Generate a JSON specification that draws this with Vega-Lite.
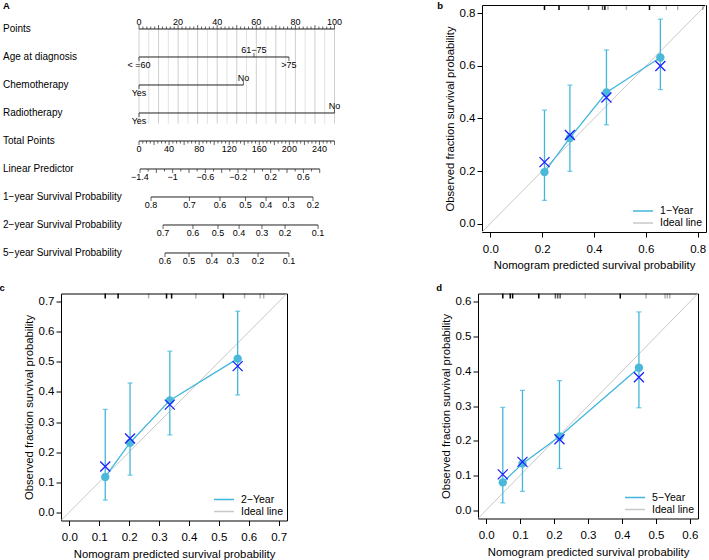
{
"$schema": "https://vega.github.io/schema/vega-lite/v6.json",
"background": "white",
"padding": {"left": -1, "top": 0, "right": 0, "bottom": 0},
"config": {
  "font": "Liberation Sans",
  "view": {"stroke": "black", "strokeWidth": 1},
  "axis": {"grid": false, "domain": false, "tickColor": "black", "tickSize": 5, "labelColor": "black", "labelFontSize": 11.5, "titleFontSize": 11.3, "titleFontWeight": "normal", "titleColor": "black", "labelFlush": false, "labelOverlap": false},
  "axisX": {"labelPadding": 6, "titlePadding": 5},
  "axisY": {"labelPadding": 2, "titlePadding": 4},
  "legend": {"padding": 0}
},
"datasets": {
  "nr": [
    {"row": 1, "name": "Points", "from": 0, "to": 100},
    {"row": 2, "name": "Age at diagnosis", "from": 0, "to": 76.7},
    {"row": 3, "name": "Chemotherapy", "from": 0, "to": 53.4},
    {"row": 4, "name": "Radiotherapy", "from": 0, "to": 100},
    {"row": 5, "name": "Total Points", "from": 0, "to": 100},
    {"row": 6, "name": "Linear Predictor", "from": 0.5, "to": 92.44},
    {"row": 7, "name": "1−year Survival Probability", "from": 6.14, "to": 89.0},
    {"row": 8, "name": "2−year Survival Probability", "from": 12.3, "to": 91.6},
    {"row": 9, "name": "5−year Survival Probability", "from": 13.3, "to": 76.7}
  ],
  "ng": [
    {"pos": 0, "kind": "M"}, {"pos": 5, "kind": "m"}, {"pos": 10, "kind": "M"}, {"pos": 15, "kind": "m"}, {"pos": 20, "kind": "M"}, {"pos": 25, "kind": "m"}, {"pos": 30, "kind": "M"}, {"pos": 35, "kind": "m"}, {"pos": 40, "kind": "M"}, {"pos": 45, "kind": "m"}, {"pos": 50, "kind": "M"}, {"pos": 55, "kind": "m"}, {"pos": 60, "kind": "M"}, {"pos": 65, "kind": "m"}, {"pos": 70, "kind": "M"}, {"pos": 75, "kind": "m"}, {"pos": 80, "kind": "M"}, {"pos": 85, "kind": "m"}, {"pos": 90, "kind": "M"}, {"pos": 95, "kind": "m"}, {"pos": 100, "kind": "M"}
  ],
  "nt": [
    {"row": 1, "pos": 0, "kind": "M", "side": "u", "label": "0"},
    {"row": 1, "pos": 2, "kind": "m", "side": "u"}, {"row": 1, "pos": 4, "kind": "m", "side": "u"}, {"row": 1, "pos": 6, "kind": "m", "side": "u"}, {"row": 1, "pos": 8, "kind": "m", "side": "u"},
    {"row": 1, "pos": 10, "kind": "M", "side": "u"},
    {"row": 1, "pos": 12, "kind": "m", "side": "u"}, {"row": 1, "pos": 14, "kind": "m", "side": "u"}, {"row": 1, "pos": 16, "kind": "m", "side": "u"}, {"row": 1, "pos": 18, "kind": "m", "side": "u"},
    {"row": 1, "pos": 20, "kind": "M", "side": "u", "label": "20"},
    {"row": 1, "pos": 22, "kind": "m", "side": "u"}, {"row": 1, "pos": 24, "kind": "m", "side": "u"}, {"row": 1, "pos": 26, "kind": "m", "side": "u"}, {"row": 1, "pos": 28, "kind": "m", "side": "u"},
    {"row": 1, "pos": 30, "kind": "M", "side": "u"},
    {"row": 1, "pos": 32, "kind": "m", "side": "u"}, {"row": 1, "pos": 34, "kind": "m", "side": "u"}, {"row": 1, "pos": 36, "kind": "m", "side": "u"}, {"row": 1, "pos": 38, "kind": "m", "side": "u"},
    {"row": 1, "pos": 40, "kind": "M", "side": "u", "label": "40"},
    {"row": 1, "pos": 42, "kind": "m", "side": "u"}, {"row": 1, "pos": 44, "kind": "m", "side": "u"}, {"row": 1, "pos": 46, "kind": "m", "side": "u"}, {"row": 1, "pos": 48, "kind": "m", "side": "u"},
    {"row": 1, "pos": 50, "kind": "M", "side": "u"},
    {"row": 1, "pos": 52, "kind": "m", "side": "u"}, {"row": 1, "pos": 54, "kind": "m", "side": "u"}, {"row": 1, "pos": 56, "kind": "m", "side": "u"}, {"row": 1, "pos": 58, "kind": "m", "side": "u"},
    {"row": 1, "pos": 60, "kind": "M", "side": "u", "label": "60"},
    {"row": 1, "pos": 62, "kind": "m", "side": "u"}, {"row": 1, "pos": 64, "kind": "m", "side": "u"}, {"row": 1, "pos": 66, "kind": "m", "side": "u"}, {"row": 1, "pos": 68, "kind": "m", "side": "u"},
    {"row": 1, "pos": 70, "kind": "M", "side": "u"},
    {"row": 1, "pos": 72, "kind": "m", "side": "u"}, {"row": 1, "pos": 74, "kind": "m", "side": "u"}, {"row": 1, "pos": 76, "kind": "m", "side": "u"}, {"row": 1, "pos": 78, "kind": "m", "side": "u"},
    {"row": 1, "pos": 80, "kind": "M", "side": "u", "label": "80"},
    {"row": 1, "pos": 82, "kind": "m", "side": "u"}, {"row": 1, "pos": 84, "kind": "m", "side": "u"}, {"row": 1, "pos": 86, "kind": "m", "side": "u"}, {"row": 1, "pos": 88, "kind": "m", "side": "u"},
    {"row": 1, "pos": 90, "kind": "M", "side": "u"},
    {"row": 1, "pos": 92, "kind": "m", "side": "u"}, {"row": 1, "pos": 94, "kind": "m", "side": "u"}, {"row": 1, "pos": 96, "kind": "m", "side": "u"}, {"row": 1, "pos": 98, "kind": "m", "side": "u"},
    {"row": 1, "pos": 100, "kind": "M", "side": "u", "label": "100"},

    {"row": 2, "pos": 0, "kind": "M", "side": "d", "label": "< =60"},
    {"row": 2, "pos": 58.8, "kind": "M", "side": "u", "label": "61−75"},
    {"row": 2, "pos": 76.7, "kind": "M", "side": "d", "label": ">75"},
    {"row": 3, "pos": 0, "kind": "M", "side": "d", "label": "Yes"},
    {"row": 3, "pos": 53.4, "kind": "M", "side": "u", "label": "No"},
    {"row": 4, "pos": 0, "kind": "M", "side": "d", "label": "Yes"},
    {"row": 4, "pos": 100, "kind": "M", "side": "u", "label": "No"},

    {"row": 5, "pos": 0, "kind": "M", "side": "d", "label": "0"},
    {"row": 5, "pos": 1.923, "kind": "m", "side": "d"}, {"row": 5, "pos": 3.846, "kind": "m", "side": "d"}, {"row": 5, "pos": 5.769, "kind": "m", "side": "d"},
    {"row": 5, "pos": 7.692, "kind": "M", "side": "d"},
    {"row": 5, "pos": 9.615, "kind": "m", "side": "d"}, {"row": 5, "pos": 11.538, "kind": "m", "side": "d"}, {"row": 5, "pos": 13.462, "kind": "m", "side": "d"},
    {"row": 5, "pos": 15.385, "kind": "M", "side": "d", "label": "40"},
    {"row": 5, "pos": 17.308, "kind": "m", "side": "d"}, {"row": 5, "pos": 19.231, "kind": "m", "side": "d"}, {"row": 5, "pos": 21.154, "kind": "m", "side": "d"},
    {"row": 5, "pos": 23.077, "kind": "M", "side": "d"},
    {"row": 5, "pos": 25, "kind": "m", "side": "d"}, {"row": 5, "pos": 26.923, "kind": "m", "side": "d"}, {"row": 5, "pos": 28.846, "kind": "m", "side": "d"},
    {"row": 5, "pos": 30.769, "kind": "M", "side": "d", "label": "80"},
    {"row": 5, "pos": 32.692, "kind": "m", "side": "d"}, {"row": 5, "pos": 34.615, "kind": "m", "side": "d"}, {"row": 5, "pos": 36.538, "kind": "m", "side": "d"},
    {"row": 5, "pos": 38.462, "kind": "M", "side": "d"},
    {"row": 5, "pos": 40.385, "kind": "m", "side": "d"}, {"row": 5, "pos": 42.308, "kind": "m", "side": "d"}, {"row": 5, "pos": 44.231, "kind": "m", "side": "d"},
    {"row": 5, "pos": 46.154, "kind": "M", "side": "d", "label": "120"},
    {"row": 5, "pos": 48.077, "kind": "m", "side": "d"}, {"row": 5, "pos": 50, "kind": "m", "side": "d"}, {"row": 5, "pos": 51.923, "kind": "m", "side": "d"},
    {"row": 5, "pos": 53.846, "kind": "M", "side": "d"},
    {"row": 5, "pos": 55.769, "kind": "m", "side": "d"}, {"row": 5, "pos": 57.692, "kind": "m", "side": "d"}, {"row": 5, "pos": 59.615, "kind": "m", "side": "d"},
    {"row": 5, "pos": 61.538, "kind": "M", "side": "d", "label": "160"},
    {"row": 5, "pos": 63.462, "kind": "m", "side": "d"}, {"row": 5, "pos": 65.385, "kind": "m", "side": "d"}, {"row": 5, "pos": 67.308, "kind": "m", "side": "d"},
    {"row": 5, "pos": 69.231, "kind": "M", "side": "d"},
    {"row": 5, "pos": 71.154, "kind": "m", "side": "d"}, {"row": 5, "pos": 73.077, "kind": "m", "side": "d"}, {"row": 5, "pos": 75, "kind": "m", "side": "d"},
    {"row": 5, "pos": 76.923, "kind": "M", "side": "d", "label": "200"},
    {"row": 5, "pos": 78.846, "kind": "m", "side": "d"}, {"row": 5, "pos": 80.769, "kind": "m", "side": "d"}, {"row": 5, "pos": 82.692, "kind": "m", "side": "d"},
    {"row": 5, "pos": 84.615, "kind": "M", "side": "d"},
    {"row": 5, "pos": 86.538, "kind": "m", "side": "d"}, {"row": 5, "pos": 88.462, "kind": "m", "side": "d"}, {"row": 5, "pos": 90.385, "kind": "m", "side": "d"},
    {"row": 5, "pos": 92.308, "kind": "M", "side": "d", "label": "240"},
    {"row": 5, "pos": 94.231, "kind": "m", "side": "d"}, {"row": 5, "pos": 96.154, "kind": "m", "side": "d"}, {"row": 5, "pos": 98.077, "kind": "m", "side": "d"},
    {"row": 5, "pos": 100, "kind": "M", "side": "d"},

    {"row": 6, "pos": 0.5, "kind": "M", "side": "d", "label": "−1.4"},
    {"row": 6, "pos": 4.68, "kind": "m", "side": "d"},
    {"row": 6, "pos": 8.86, "kind": "M", "side": "d"},
    {"row": 6, "pos": 13.04, "kind": "m", "side": "d"},
    {"row": 6, "pos": 17.22, "kind": "M", "side": "d", "label": "−1"},
    {"row": 6, "pos": 21.39, "kind": "m", "side": "d"},
    {"row": 6, "pos": 25.57, "kind": "M", "side": "d"},
    {"row": 6, "pos": 29.75, "kind": "m", "side": "d"},
    {"row": 6, "pos": 33.93, "kind": "M", "side": "d", "label": "−0.6"},
    {"row": 6, "pos": 38.11, "kind": "m", "side": "d"},
    {"row": 6, "pos": 42.29, "kind": "M", "side": "d"},
    {"row": 6, "pos": 46.47, "kind": "m", "side": "d"},
    {"row": 6, "pos": 50.65, "kind": "M", "side": "d", "label": "−0.2"},
    {"row": 6, "pos": 54.83, "kind": "m", "side": "d"},
    {"row": 6, "pos": 59.01, "kind": "M", "side": "d"},
    {"row": 6, "pos": 63.19, "kind": "m", "side": "d"},
    {"row": 6, "pos": 67.37, "kind": "M", "side": "d", "label": "0.2"},
    {"row": 6, "pos": 71.54, "kind": "m", "side": "d"},
    {"row": 6, "pos": 75.72, "kind": "M", "side": "d"},
    {"row": 6, "pos": 79.9, "kind": "m", "side": "d"},
    {"row": 6, "pos": 84.08, "kind": "M", "side": "d", "label": "0.6"},
    {"row": 6, "pos": 88.26, "kind": "m", "side": "d"},
    {"row": 6, "pos": 92.44, "kind": "M", "side": "d"},

    {"row": 7, "pos": 6.14, "kind": "M", "side": "d", "label": "0.8"},
    {"row": 7, "pos": 25.8, "kind": "M", "side": "d", "label": "0.7"},
    {"row": 7, "pos": 41.4, "kind": "M", "side": "d", "label": "0.6"},
    {"row": 7, "pos": 54.5, "kind": "M", "side": "d", "label": "0.5"},
    {"row": 7, "pos": 65.0, "kind": "M", "side": "d", "label": "0.4"},
    {"row": 7, "pos": 76.5, "kind": "M", "side": "d", "label": "0.3"},
    {"row": 7, "pos": 89.0, "kind": "M", "side": "d", "label": "0.2"},

    {"row": 8, "pos": 12.3, "kind": "M", "side": "d", "label": "0.7"},
    {"row": 8, "pos": 27.6, "kind": "M", "side": "d", "label": "0.6"},
    {"row": 8, "pos": 40.4, "kind": "M", "side": "d", "label": "0.5"},
    {"row": 8, "pos": 51.2, "kind": "M", "side": "d", "label": "0.4"},
    {"row": 8, "pos": 62.9, "kind": "M", "side": "d", "label": "0.3"},
    {"row": 8, "pos": 74.7, "kind": "M", "side": "d", "label": "0.2"},
    {"row": 8, "pos": 91.6, "kind": "M", "side": "d", "label": "0.1"},

    {"row": 9, "pos": 13.3, "kind": "M", "side": "d", "label": "0.6"},
    {"row": 9, "pos": 25.6, "kind": "M", "side": "d", "label": "0.5"},
    {"row": 9, "pos": 37.3, "kind": "M", "side": "d", "label": "0.4"},
    {"row": 9, "pos": 48.1, "kind": "M", "side": "d", "label": "0.3"},
    {"row": 9, "pos": 60.9, "kind": "M", "side": "d", "label": "0.2"},
    {"row": 9, "pos": 76.7, "kind": "M", "side": "d", "label": "0.1"}
  ],
  "ideal": [{"p": -0.1}, {"p": 1.0}],
  "cal1": [
    {"pred": 0.209, "obs": 0.196, "lo": 0.088, "hi": 0.432, "bc": 0.234},
    {"pred": 0.307, "obs": 0.326, "lo": 0.199, "hi": 0.527, "bc": 0.337},
    {"pred": 0.448, "obs": 0.499, "lo": 0.376, "hi": 0.661, "bc": 0.48},
    {"pred": 0.656, "obs": 0.632, "lo": 0.51, "hi": 0.778, "bc": 0.6}
  ],
  "cal2": [
    {"pred": 0.12, "obs": 0.117, "lo": 0.04, "hi": 0.342, "bc": 0.152},
    {"pred": 0.203, "obs": 0.231, "lo": 0.123, "hi": 0.43, "bc": 0.245},
    {"pred": 0.336, "obs": 0.372, "lo": 0.257, "hi": 0.536, "bc": 0.358},
    {"pred": 0.563, "obs": 0.511, "lo": 0.39, "hi": 0.669, "bc": 0.486}
  ],
  "cal5": [
    {"pred": 0.049, "obs": 0.08, "lo": 0.021, "hi": 0.296, "bc": 0.103},
    {"pred": 0.107, "obs": 0.134, "lo": 0.054, "hi": 0.345, "bc": 0.139},
    {"pred": 0.216, "obs": 0.212, "lo": 0.12, "hi": 0.373, "bc": 0.204},
    {"pred": 0.45, "obs": 0.41, "lo": 0.295, "hi": 0.571, "bc": 0.383}
  ],
  "rug1": [
    {"p": 0.209, "n": 3}, {"p": 0.265, "n": 3}, {"p": 0.379, "n": 2}, {"p": 0.433, "n": 2}, {"p": 0.442, "n": 3}, {"p": 0.454, "n": 1}, {"p": 0.525, "n": 1}, {"p": 0.614, "n": 3}, {"p": 0.679, "n": 1}, {"p": 0.723, "n": 1}, {"p": 0.82, "n": 1}
  ],
  "rug2": [
    {"p": 0.12, "n": 3}, {"p": 0.163, "n": 3}, {"p": 0.265, "n": 1}, {"p": 0.325, "n": 3}, {"p": 0.342, "n": 3}, {"p": 0.423, "n": 1}, {"p": 0.515, "n": 3}, {"p": 0.586, "n": 1}, {"p": 0.638, "n": 1}, {"p": 0.65, "n": 1}
  ],
  "rug5": [
    {"p": 0.049, "n": 3}, {"p": 0.071, "n": 3}, {"p": 0.078, "n": 3}, {"p": 0.155, "n": 3}, {"p": 0.204, "n": 2}, {"p": 0.211, "n": 2}, {"p": 0.218, "n": 2}, {"p": 0.292, "n": 1}, {"p": 0.395, "n": 3}, {"p": 0.471, "n": 1}, {"p": 0.527, "n": 1}, {"p": 0.534, "n": 1}, {"p": 0.541, "n": 1}
  ]
},
"resolve": {"scale": {"color": "independent"}, "legend": {"color": "independent"}},
"spacing": 9.5,
"vconcat": [
 {
  "spacing": 93,
  "resolve": {"scale": {"color": "independent"}, "legend": {"color": "independent"}},
  "hconcat": [
   {
    "width": 282, "height": 262,
    "view": {"stroke": null},
    "title": {"text": "A", "anchor": "start", "frame": "bounds", "offset": 0, "dy": 5.5, "baseline": "top", "fontSize": 9.5, "fontWeight": "bold"},
    "layer": [
     {"data": {"name": "ng"}, "transform": [{"filter": "datum.kind == 'm'"}],
      "mark": {"type": "rule", "color": "#e2e2e2", "strokeWidth": 1},
      "encoding": {
        "x": {"field": "pos", "type": "quantitative", "scale": {"domain": [-39.9, 104.35], "nice": false, "zero": false}, "axis": null},
        "y": {"datum": 1, "type": "quantitative", "scale": {"domain": [0.143, 9.5], "nice": false, "zero": false, "reverse": true}, "axis": null},
        "y2": {"datum": 4.38}}},
     {"data": {"name": "ng"}, "transform": [{"filter": "datum.kind == 'M'"}],
      "mark": {"type": "rule", "color": "#cfcfcf", "strokeWidth": 1},
      "encoding": {
        "x": {"field": "pos", "type": "quantitative", "axis": null},
        "y": {"datum": 1, "type": "quantitative", "axis": null},
        "y2": {"datum": 4.38}}},
     {"data": {"name": "nr"},
      "mark": {"type": "rule", "color": "#222222", "strokeWidth": 1},
      "encoding": {
        "x": {"field": "from", "type": "quantitative", "axis": null},
        "x2": {"field": "to"},
        "y": {"field": "row", "type": "quantitative", "axis": null}}},
     {"data": {"name": "nr"},
      "mark": {"type": "text", "align": "left", "baseline": "middle", "fontSize": 10, "color": "black"},
      "encoding": {
        "x": {"datum": -69.57, "type": "quantitative"},
        "y": {"field": "row", "type": "quantitative", "axis": null},
        "text": {"field": "name"}}},
     {"data": {"name": "nt"}, "transform": [{"filter": "datum.kind == 'M' && datum.side == 'u'"}],
      "mark": {"type": "tick", "orient": "vertical", "size": 4, "thickness": 1, "yOffset": -2, "color": "#222222"},
      "encoding": {"x": {"field": "pos", "type": "quantitative"}, "y": {"field": "row", "type": "quantitative"}}},
     {"data": {"name": "nt"}, "transform": [{"filter": "datum.kind == 'm' && datum.side == 'u'"}],
      "mark": {"type": "tick", "orient": "vertical", "size": 2.5, "thickness": 1, "yOffset": -1.25, "color": "#222222"},
      "encoding": {"x": {"field": "pos", "type": "quantitative"}, "y": {"field": "row", "type": "quantitative"}}},
     {"data": {"name": "nt"}, "transform": [{"filter": "datum.kind == 'M' && datum.side == 'd'"}],
      "mark": {"type": "tick", "orient": "vertical", "size": 4, "thickness": 1, "yOffset": 2, "color": "#222222"},
      "encoding": {"x": {"field": "pos", "type": "quantitative"}, "y": {"field": "row", "type": "quantitative"}}},
     {"data": {"name": "nt"}, "transform": [{"filter": "datum.kind == 'm' && datum.side == 'd'"}],
      "mark": {"type": "tick", "orient": "vertical", "size": 2.5, "thickness": 1, "yOffset": 1.25, "color": "#222222"},
      "encoding": {"x": {"field": "pos", "type": "quantitative"}, "y": {"field": "row", "type": "quantitative"}}},
     {"data": {"name": "nt"}, "transform": [{"filter": "datum.side == 'u' && datum.label"}],
      "mark": {"type": "text", "dy": -7, "baseline": "middle", "fontSize": 9, "color": "black"},
      "encoding": {"x": {"field": "pos", "type": "quantitative"}, "y": {"field": "row", "type": "quantitative"}, "text": {"field": "label"}}},
     {"data": {"name": "nt"}, "transform": [{"filter": "datum.side == 'd' && datum.label"}],
      "mark": {"type": "text", "dy": 8, "baseline": "middle", "fontSize": 9, "color": "black"},
      "encoding": {"x": {"field": "pos", "type": "quantitative"}, "y": {"field": "row", "type": "quantitative"}, "text": {"field": "label"}}}
    ]
   },
   {
    "width": 224, "height": 227,
    "title": {"text": "b", "anchor": "start", "frame": "bounds", "offset": 0, "dy": 5.5, "baseline": "top", "dx": -6.7, "fontSize": 9.5, "fontWeight": "bold"},
    "layer": [
     {"data": {"name": "ideal"}, "mark": {"type": "line", "clip": true, "strokeWidth": 1},
      "encoding": {
        "x": {"field": "p", "type": "quantitative", "scale": {"domain": [-0.032, 0.832], "nice": false, "zero": false}, "axis": {"values": [0, 0.2, 0.4, 0.6, 0.8], "tickCount": 5, "format": ".1f", "title": "Nomogram predicted survival probability"}},
        "y": {"field": "p", "type": "quantitative", "scale": {"domain": [-0.032, 0.832], "nice": false, "zero": false}, "axis": {"values": [0, 0.2, 0.4, 0.6, 0.8], "tickCount": 5, "format": ".1f", "title": "Observed fraction survival probability"}},
        "color": {"datum": "Ideal line", "type": "nominal", "scale": {"domain": ["1−Year", "Ideal line"], "range": ["#41b6dc", "#c8c8c8"]},
          "legend": {"orient": "bottom-right", "title": null, "offset": 3, "symbolType": "M-2,0L2,0", "symbolSize": 100, "symbolStrokeWidth": 1.5, "labelFontSize": 10.5, "rowPadding": 0, "labelOffset": 11}}}},
     {"data": {"name": "cal1"}, "mark": {"type": "errorbar", "color": "#41b6dc", "ticks": {"size": 5, "thickness": 1.3}, "rule": {"strokeWidth": 1.3}},
      "encoding": {
        "x": {"field": "pred", "type": "quantitative", "axis": {"values": [0, 0.2, 0.4, 0.6, 0.8], "tickCount": 5, "format": ".1f", "title": "Nomogram predicted survival probability"}},
        "y": {"field": "lo", "type": "quantitative", "axis": {"values": [0, 0.2, 0.4, 0.6, 0.8], "tickCount": 5, "format": ".1f", "title": "Observed fraction survival probability"}},
        "y2": {"field": "hi"}}},
     {"data": {"name": "cal1"}, "mark": {"type": "line", "strokeWidth": 1.3},
      "encoding": {
        "x": {"field": "pred", "type": "quantitative", "axis": {"values": [0, 0.2, 0.4, 0.6, 0.8], "tickCount": 5, "format": ".1f", "title": "Nomogram predicted survival probability"}},
        "y": {"field": "obs", "type": "quantitative", "axis": {"values": [0, 0.2, 0.4, 0.6, 0.8], "tickCount": 5, "format": ".1f", "title": "Observed fraction survival probability"}},
        "color": {"datum": "1−Year", "type": "nominal"}}},
     {"data": {"name": "cal1"}, "mark": {"type": "point", "filled": true, "opacity": 1, "size": 70, "color": "#4ab8d8"},
      "encoding": {
        "x": {"field": "pred", "type": "quantitative", "axis": {"values": [0, 0.2, 0.4, 0.6, 0.8], "tickCount": 5, "format": ".1f", "title": "Nomogram predicted survival probability"}},
        "y": {"field": "obs", "type": "quantitative", "axis": {"values": [0, 0.2, 0.4, 0.6, 0.8], "tickCount": 5, "format": ".1f", "title": "Observed fraction survival probability"}}}},
     {"data": {"name": "cal1"}, "mark": {"type": "point", "shape": "M-1,-1L1,1M1,-1L-1,1", "filled": false, "opacity": 1, "size": 100, "strokeWidth": 1.3, "color": "#1f1fff"},
      "encoding": {
        "x": {"field": "pred", "type": "quantitative", "axis": {"values": [0, 0.2, 0.4, 0.6, 0.8], "tickCount": 5, "format": ".1f", "title": "Nomogram predicted survival probability"}},
        "y": {"field": "bc", "type": "quantitative", "axis": {"values": [0, 0.2, 0.4, 0.6, 0.8], "tickCount": 5, "format": ".1f", "title": "Observed fraction survival probability"}}}},
     {"data": {"name": "rug1"}, "mark": {"type": "tick", "orient": "vertical", "size": 5, "thickness": 1.5, "yOffset": 2.5, "color": "black"},
      "encoding": {
        "x": {"field": "p", "type": "quantitative", "axis": {"values": [0, 0.2, 0.4, 0.6, 0.8], "tickCount": 5, "format": ".1f", "title": "Nomogram predicted survival probability"}},
        "y": {"datum": 0.832, "type": "quantitative", "axis": {"values": [0, 0.2, 0.4, 0.6, 0.8], "tickCount": 5, "format": ".1f", "title": "Observed fraction survival probability"}},
        "opacity": {"field": "n", "type": "quantitative", "scale": {"domain": [1, 3], "range": [0.3, 1]}, "legend": null}}}
    ]
   }
  ]
 },
 {
  "spacing": 147,
  "resolve": {"scale": {"color": "independent"}, "legend": {"color": "independent"}},
  "hconcat": [
   {
    "width": 226, "height": 227,
    "title": {"text": "c", "anchor": "start", "frame": "bounds", "offset": 0, "dy": 8.5, "baseline": "bottom", "dx": -23.5, "fontSize": 9.5, "fontWeight": "bold"},
    "layer": [
     {"data": {"name": "ideal"}, "mark": {"type": "line", "clip": true, "strokeWidth": 1},
      "encoding": {
        "x": {"field": "p", "type": "quantitative", "scale": {"domain": [-0.028, 0.728], "nice": false, "zero": false}, "axis": {"values": [0, 0.1, 0.2, 0.3, 0.4, 0.5, 0.6, 0.7], "tickCount": 8, "format": ".1f", "title": "Nomogram predicted survival probability"}},
        "y": {"field": "p", "type": "quantitative", "scale": {"domain": [-0.028, 0.728], "nice": false, "zero": false}, "axis": {"values": [0, 0.1, 0.2, 0.3, 0.4, 0.5, 0.6, 0.7], "tickCount": 8, "format": ".1f", "title": "Observed fraction survival probability"}},
        "color": {"datum": "Ideal line", "type": "nominal", "scale": {"domain": ["2−Year", "Ideal line"], "range": ["#41b6dc", "#c8c8c8"]},
          "legend": {"orient": "bottom-right", "title": null, "offset": 3, "symbolType": "M-2,0L2,0", "symbolSize": 100, "symbolStrokeWidth": 1.5, "labelFontSize": 10.5, "rowPadding": 0, "labelOffset": 11}}}},
     {"data": {"name": "cal2"}, "mark": {"type": "errorbar", "color": "#41b6dc", "ticks": {"size": 5, "thickness": 1.3}, "rule": {"strokeWidth": 1.3}},
      "encoding": {
        "x": {"field": "pred", "type": "quantitative", "axis": {"values": [0, 0.1, 0.2, 0.3, 0.4, 0.5, 0.6, 0.7], "tickCount": 8, "format": ".1f", "title": "Nomogram predicted survival probability"}},
        "y": {"field": "lo", "type": "quantitative", "axis": {"values": [0, 0.1, 0.2, 0.3, 0.4, 0.5, 0.6, 0.7], "tickCount": 8, "format": ".1f", "title": "Observed fraction survival probability"}},
        "y2": {"field": "hi"}}},
     {"data": {"name": "cal2"}, "mark": {"type": "line", "strokeWidth": 1.3},
      "encoding": {
        "x": {"field": "pred", "type": "quantitative", "axis": {"values": [0, 0.1, 0.2, 0.3, 0.4, 0.5, 0.6, 0.7], "tickCount": 8, "format": ".1f", "title": "Nomogram predicted survival probability"}},
        "y": {"field": "obs", "type": "quantitative", "axis": {"values": [0, 0.1, 0.2, 0.3, 0.4, 0.5, 0.6, 0.7], "tickCount": 8, "format": ".1f", "title": "Observed fraction survival probability"}},
        "color": {"datum": "2−Year", "type": "nominal"}}},
     {"data": {"name": "cal2"}, "mark": {"type": "point", "filled": true, "opacity": 1, "size": 70, "color": "#4ab8d8"},
      "encoding": {
        "x": {"field": "pred", "type": "quantitative", "axis": {"values": [0, 0.1, 0.2, 0.3, 0.4, 0.5, 0.6, 0.7], "tickCount": 8, "format": ".1f", "title": "Nomogram predicted survival probability"}},
        "y": {"field": "obs", "type": "quantitative", "axis": {"values": [0, 0.1, 0.2, 0.3, 0.4, 0.5, 0.6, 0.7], "tickCount": 8, "format": ".1f", "title": "Observed fraction survival probability"}}}},
     {"data": {"name": "cal2"}, "mark": {"type": "point", "shape": "M-1,-1L1,1M1,-1L-1,1", "filled": false, "opacity": 1, "size": 100, "strokeWidth": 1.3, "color": "#1f1fff"},
      "encoding": {
        "x": {"field": "pred", "type": "quantitative", "axis": {"values": [0, 0.1, 0.2, 0.3, 0.4, 0.5, 0.6, 0.7], "tickCount": 8, "format": ".1f", "title": "Nomogram predicted survival probability"}},
        "y": {"field": "bc", "type": "quantitative", "axis": {"values": [0, 0.1, 0.2, 0.3, 0.4, 0.5, 0.6, 0.7], "tickCount": 8, "format": ".1f", "title": "Observed fraction survival probability"}}}},
     {"data": {"name": "rug2"}, "mark": {"type": "tick", "orient": "vertical", "size": 5, "thickness": 1.5, "yOffset": 2.5, "color": "black"},
      "encoding": {
        "x": {"field": "p", "type": "quantitative", "axis": {"values": [0, 0.1, 0.2, 0.3, 0.4, 0.5, 0.6, 0.7], "tickCount": 8, "format": ".1f", "title": "Nomogram predicted survival probability"}},
        "y": {"datum": 0.728, "type": "quantitative", "axis": {"values": [0, 0.1, 0.2, 0.3, 0.4, 0.5, 0.6, 0.7], "tickCount": 8, "format": ".1f", "title": "Observed fraction survival probability"}},
        "opacity": {"field": "n", "type": "quantitative", "scale": {"domain": [1, 3], "range": [0.3, 1]}, "legend": null}}}
    ]
   },
   {
    "width": 220, "height": 225,
    "title": {"text": "d", "anchor": "start", "frame": "bounds", "offset": 0, "dy": 8.5, "baseline": "bottom", "dx": -3.8, "fontSize": 9.5, "fontWeight": "bold"},
    "layer": [
     {"data": {"name": "ideal"}, "mark": {"type": "line", "clip": true, "strokeWidth": 1},
      "encoding": {
        "x": {"field": "p", "type": "quantitative", "scale": {"domain": [-0.024, 0.624], "nice": false, "zero": false}, "axis": {"values": [0, 0.1, 0.2, 0.3, 0.4, 0.5, 0.6], "tickCount": 7, "format": ".1f", "title": "Nomogram predicted survival probability"}},
        "y": {"field": "p", "type": "quantitative", "scale": {"domain": [-0.024, 0.624], "nice": false, "zero": false}, "axis": {"values": [0, 0.1, 0.2, 0.3, 0.4, 0.5, 0.6], "tickCount": 7, "format": ".1f", "title": "Observed fraction survival probability"}},
        "color": {"datum": "Ideal line", "type": "nominal", "scale": {"domain": ["5−Year", "Ideal line"], "range": ["#41b6dc", "#c8c8c8"]},
          "legend": {"orient": "bottom-right", "title": null, "offset": 3, "symbolType": "M-2,0L2,0", "symbolSize": 100, "symbolStrokeWidth": 1.5, "labelFontSize": 10.5, "rowPadding": 0, "labelOffset": 11}}}},
     {"data": {"name": "cal5"}, "mark": {"type": "errorbar", "color": "#41b6dc", "ticks": {"size": 5, "thickness": 1.3}, "rule": {"strokeWidth": 1.3}},
      "encoding": {
        "x": {"field": "pred", "type": "quantitative", "axis": {"values": [0, 0.1, 0.2, 0.3, 0.4, 0.5, 0.6], "tickCount": 7, "format": ".1f", "title": "Nomogram predicted survival probability"}},
        "y": {"field": "lo", "type": "quantitative", "axis": {"values": [0, 0.1, 0.2, 0.3, 0.4, 0.5, 0.6], "tickCount": 7, "format": ".1f", "title": "Observed fraction survival probability"}},
        "y2": {"field": "hi"}}},
     {"data": {"name": "cal5"}, "mark": {"type": "line", "strokeWidth": 1.3},
      "encoding": {
        "x": {"field": "pred", "type": "quantitative", "axis": {"values": [0, 0.1, 0.2, 0.3, 0.4, 0.5, 0.6], "tickCount": 7, "format": ".1f", "title": "Nomogram predicted survival probability"}},
        "y": {"field": "obs", "type": "quantitative", "axis": {"values": [0, 0.1, 0.2, 0.3, 0.4, 0.5, 0.6], "tickCount": 7, "format": ".1f", "title": "Observed fraction survival probability"}},
        "color": {"datum": "5−Year", "type": "nominal"}}},
     {"data": {"name": "cal5"}, "mark": {"type": "point", "filled": true, "opacity": 1, "size": 70, "color": "#4ab8d8"},
      "encoding": {
        "x": {"field": "pred", "type": "quantitative", "axis": {"values": [0, 0.1, 0.2, 0.3, 0.4, 0.5, 0.6], "tickCount": 7, "format": ".1f", "title": "Nomogram predicted survival probability"}},
        "y": {"field": "obs", "type": "quantitative", "axis": {"values": [0, 0.1, 0.2, 0.3, 0.4, 0.5, 0.6], "tickCount": 7, "format": ".1f", "title": "Observed fraction survival probability"}}}},
     {"data": {"name": "cal5"}, "mark": {"type": "point", "shape": "M-1,-1L1,1M1,-1L-1,1", "filled": false, "opacity": 1, "size": 100, "strokeWidth": 1.3, "color": "#1f1fff"},
      "encoding": {
        "x": {"field": "pred", "type": "quantitative", "axis": {"values": [0, 0.1, 0.2, 0.3, 0.4, 0.5, 0.6], "tickCount": 7, "format": ".1f", "title": "Nomogram predicted survival probability"}},
        "y": {"field": "bc", "type": "quantitative", "axis": {"values": [0, 0.1, 0.2, 0.3, 0.4, 0.5, 0.6], "tickCount": 7, "format": ".1f", "title": "Observed fraction survival probability"}}}},
     {"data": {"name": "rug5"}, "mark": {"type": "tick", "orient": "vertical", "size": 5, "thickness": 1.5, "yOffset": 2.5, "color": "black"},
      "encoding": {
        "x": {"field": "p", "type": "quantitative", "axis": {"values": [0, 0.1, 0.2, 0.3, 0.4, 0.5, 0.6], "tickCount": 7, "format": ".1f", "title": "Nomogram predicted survival probability"}},
        "y": {"datum": 0.624, "type": "quantitative", "axis": {"values": [0, 0.1, 0.2, 0.3, 0.4, 0.5, 0.6], "tickCount": 7, "format": ".1f", "title": "Observed fraction survival probability"}},
        "opacity": {"field": "n", "type": "quantitative", "scale": {"domain": [1, 3], "range": [0.3, 1]}, "legend": null}}}
    ]
   }
  ]
 }
]
}
